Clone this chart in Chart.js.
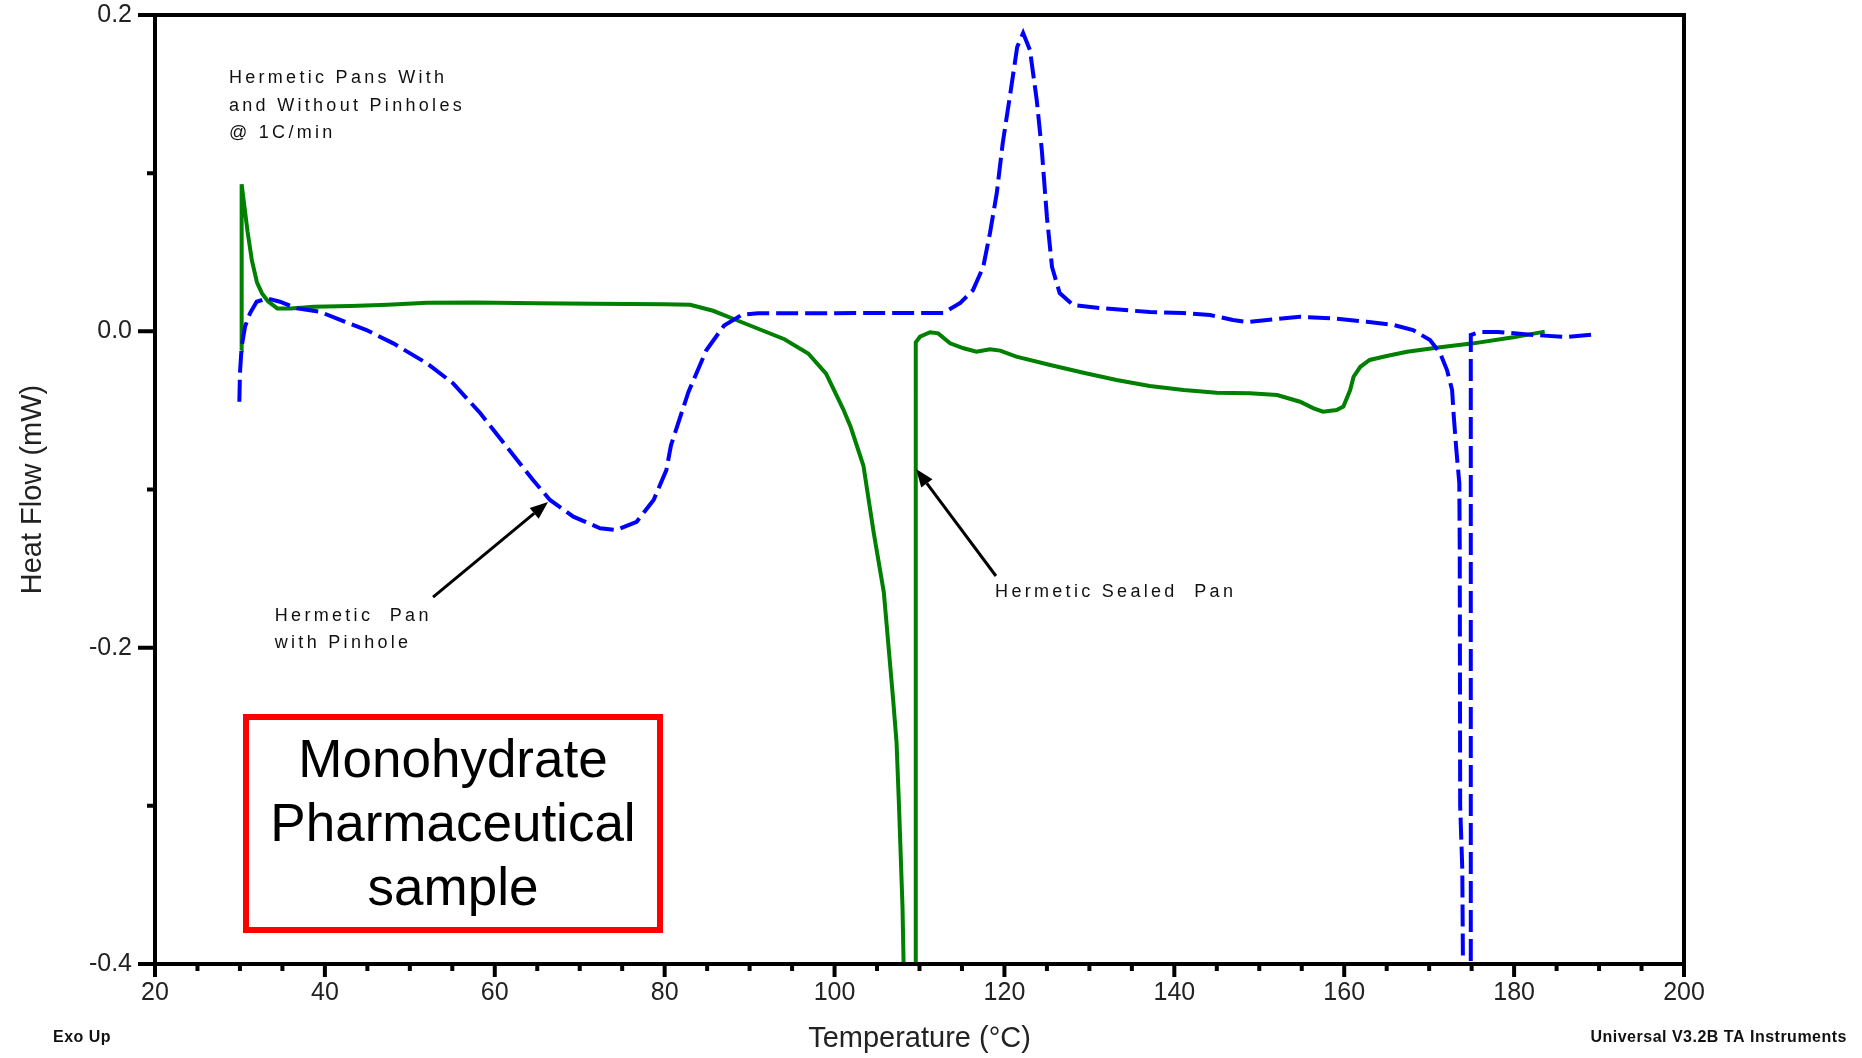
<!DOCTYPE html>
<html><head><meta charset="utf-8">
<script src="https://cdn.jsdelivr.net/npm/chart.js@4.4.1/dist/chart.umd.min.js"></script>
<style>html,body{margin:0;padding:0;background:#fff;} #wrap{width:1862px;height:1058px;position:relative;}</style>
</head><body><div id="wrap"><canvas id="c"></canvas></div>
<script>
// Tick labels
const xTickLabels = [20, 40, 60, 80, 100, 120, 140, 160, 180, 200];
const yTickLabels = [-0.4, -0.2, 0.0, 0.2];

// Hermetic Sealed Pan (green, solid)
const sealedT  = [30.15, 30.2, 30.5, 30.9, 31.4, 32.0, 32.6, 33.3, 34.4, 36.0, 38.7, 43.0, 47.4, 52.0, 57.7, 65.0, 71.7, 80.0, 83.0, 85.7, 88.5, 91.3, 94.1, 96.9, 99.0, 101.0, 101.9, 103.4, 104.6, 105.8, 106.9, 107.3, 107.6, 108.0, 108.2, 108.6, 109.2, 109.55, 109.56, 110.06, 111.24, 112.2, 113.6, 115.2, 116.7, 118.3, 119.5, 121.4, 125.4, 129.3, 133.2, 137.1, 141.1, 145.0, 148.9, 152.1, 154.8, 156.4, 157.5, 159.1, 159.9, 160.7, 161.1, 161.9, 163.0, 165.0, 167.4, 171.3, 175.2, 179.9, 183.6];
const sealedHF = [-0.012, 0.093, 0.080, 0.063, 0.045, 0.031, 0.024, 0.019, 0.0145, 0.0145, 0.0155, 0.016, 0.0168, 0.018, 0.0183, 0.0178, 0.0175, 0.0172, 0.0168, 0.013, 0.007, 0.001, -0.005, -0.014, -0.0268, -0.049, -0.0605, -0.085, -0.127, -0.165, -0.233, -0.260, -0.302, -0.364, -0.42, -0.48, -0.48, -0.42, -0.007, -0.0034, -0.0006, -0.0013, -0.0076, -0.0107, -0.0129, -0.0114, -0.0122, -0.016, -0.0213, -0.0262, -0.0308, -0.0346, -0.0371, -0.0388, -0.0392, -0.0403, -0.0445, -0.0487, -0.0508, -0.0497, -0.0476, -0.0371, -0.0287, -0.0224, -0.0181, -0.0156, -0.0129, -0.0101, -0.0076, -0.0038, -0.0002];

// Hermetic Pan with Pinhole (blue, dashed)
const pinholeT  = [29.93, 30.0, 30.2, 30.6, 31.18, 31.97, 33.15, 34.7, 36.7, 39.4, 41.8, 44.9, 48.05, 52.0, 55.1, 58.3, 61.4, 64.5, 66.5, 69.25, 72.4, 74.35, 76.7, 78.7, 80.2, 80.75, 82.8, 84.9, 87.0, 89.1, 91.0, 100.0, 112.8, 114.8, 116.3, 117.5, 118.3, 119.1, 119.8, 120.7, 121.5, 122.2, 123.0, 123.8, 124.4, 125.0, 125.6, 126.5, 128.1, 131.25, 137.1, 141.0, 144.2, 146.9, 148.6, 151.5, 154.8, 158.7, 162.65, 165.8, 168.1, 170.1, 171.3, 172.1, 172.7, 172.9, 173.2, 173.55, 173.6, 173.65, 173.9, 174.0, 174.3, 174.7, 174.9, 174.9, 176.0, 178.1, 182.3, 186.2, 189.8];
const pinholeHF = [-0.0445, -0.0265, -0.0097, 0.003, 0.0114, 0.0187, 0.0209, 0.0187, 0.0146, 0.0124, 0.0072, 0.0008, -0.0076, -0.0202, -0.0329, -0.0518, -0.0729, -0.094, -0.1066, -0.1172, -0.1245, -0.1256, -0.1204, -0.1066, -0.0877, -0.0719, -0.0383, -0.012, 0.0037, 0.0105, 0.0115, 0.0115, 0.0116, 0.0179, 0.0261, 0.0407, 0.0622, 0.0875, 0.1191, 0.1507, 0.1798, 0.1886, 0.1779, 0.1463, 0.1146, 0.0723, 0.0407, 0.0242, 0.0166, 0.0147, 0.0122, 0.0116, 0.0103, 0.0072, 0.0059, 0.0075, 0.0092, 0.0082, 0.0061, 0.004, 0.0008, -0.0055, -0.0139, -0.0245, -0.0371, -0.054, -0.075, -0.096, -0.138, -0.30, -0.34, -0.42, -0.48, -0.48, -0.42, -0.0023, -0.0004, -0.0004, -0.0023, -0.0036, -0.0017];

const toXY = (xs, ys) => xs.map((x, i) => ({x: x, y: ys[i]}));

const FONT = '"Liberation Sans", Arial, sans-serif';

const decor = {
  id: 'decor',
  afterDraw(chart) {
    const ctx = chart.ctx;
    const a = chart.chartArea;
    const xs = chart.scales.x, ys = chart.scales.y;
    ctx.save();
    // frame
    ctx.strokeStyle = '#000';
    ctx.lineWidth = 4;
    ctx.strokeRect(a.left, a.top, a.right - a.left, a.bottom - a.top);
    // ticks
    ctx.lineWidth = 4;
    ctx.beginPath();
    xs.ticks.forEach(t => {
      const px = xs.getPixelForValue(t.value);
      const major = xTickLabels.includes(t.value);
      ctx.moveTo(px, a.bottom);
      ctx.lineTo(px, a.bottom + (major ? 13 : 7));
    });
    ys.ticks.forEach(t => {
      const py = ys.getPixelForValue(t.value);
      const major = yTickLabels.some(v => Math.abs(v - t.value) < 1e-9);
      ctx.moveTo(a.left, py);
      ctx.lineTo(a.left - (major ? 17 : 8), py);
    });
    ctx.stroke();

    // annotation texts
    ctx.fillStyle = '#111';
    ctx.font = '18px ' + FONT;
    ctx.textAlign = 'left';
    ctx.textBaseline = 'alphabetic';
    try { ctx.letterSpacing = '3.3px'; } catch (e) {}
    const note = (lines, T, v) => {
      const x0 = xs.getPixelForValue(T), y0 = ys.getPixelForValue(v);
      lines.forEach((s, i) => ctx.fillText(s, x0, y0 + i * 27.5));
    };
    note(['Hermetic Pans With', 'and Without Pinholes', '@ 1C/min'], 28.7, 0.157);
    note(['Hermetic  Pan', 'with Pinhole'], 34.1, -0.183);
    note(['Hermetic Sealed  Pan'], 118.9, -0.1678);

    // arrows
    const arrow = (T1, v1, T2, v2) => {
      const x1 = xs.getPixelForValue(T1), y1 = ys.getPixelForValue(v1);
      const x2 = xs.getPixelForValue(T2), y2 = ys.getPixelForValue(v2);
      const ang = Math.atan2(y2 - y1, x2 - x1);
      const L = 18, W = 7;
      const bx = x2 - L * Math.cos(ang), by = y2 - L * Math.sin(ang);
      ctx.strokeStyle = '#000';
      ctx.lineWidth = 3;
      ctx.beginPath();
      ctx.moveTo(x1, y1);
      ctx.lineTo(bx, by);
      ctx.stroke();
      ctx.fillStyle = '#000';
      ctx.beginPath();
      ctx.moveTo(x2, y2);
      ctx.lineTo(bx + W * Math.sin(ang), by - W * Math.cos(ang));
      ctx.lineTo(bx - W * Math.sin(ang), by + W * Math.cos(ang));
      ctx.closePath();
      ctx.fill();
    };
    arrow(52.73, -0.168, 66.27, -0.1079);
    arrow(119.0, -0.1547, 109.6, -0.087);

    // red box
    try { ctx.letterSpacing = '0px'; } catch (e) {}
    ctx.strokeStyle = '#ff0000';
    ctx.lineWidth = 6;
    ctx.strokeRect(246, 717, 414, 213);
    ctx.fillStyle = '#000';
    ctx.font = '53px ' + FONT;
    ctx.textAlign = 'center';
    ['Monohydrate', 'Pharmaceutical', 'sample'].forEach((s, i) => ctx.fillText(s, 453, 777 + i * 64));

    // footer
    ctx.font = 'bold 16px ' + FONT;
    ctx.fillStyle = '#111';
    try { ctx.letterSpacing = '0.5px'; } catch (e) {}
    ctx.textAlign = 'left';
    ctx.fillText('Exo Up', 53, 1042);
    ctx.textAlign = 'right';
    ctx.fillText('Universal V3.2B TA Instruments', 1847, 1042);
    ctx.restore();
  }
};

new Chart(document.getElementById('c'), {
  type: 'line',
  data: {
    datasets: [
      {label: 'Hermetic Pan with Pinhole', data: toXY(pinholeT, pinholeHF), borderColor: '#0000ff', borderWidth: 4, borderDash: [22, 7], pointRadius: 0, fill: false, tension: 0},
      {label: 'Hermetic Sealed Pan', data: toXY(sealedT, sealedHF), borderColor: '#008000', borderWidth: 4, pointRadius: 0, fill: false, tension: 0}
    ]
  },
  options: {
    responsive: true,
    maintainAspectRatio: false,
    animation: false,
    devicePixelRatio: 1,
    layout: {padding: {left: 0, right: 178, top: 15, bottom: 0}},
    plugins: {legend: {display: false}, tooltip: {enabled: false}},
    scales: {
      x: {
        type: 'linear', min: 20, max: 200,
        grid: {display: false, drawTicks: false},
        border: {display: false},
        ticks: {stepSize: 5, autoSkip: false, maxRotation: 0, padding: 14.5, color: '#222', font: {family: FONT, size: 25},
          callback: v => xTickLabels.includes(v) ? String(v) : ''},
        title: {display: true, text: 'Temperature (°C)', color: '#222', font: {family: FONT, size: 29}, padding: {top: 0, bottom: 2}},
        afterFit: s => { s.height = 94; s.paddingLeft = 0; s.paddingRight = 0; }
      },
      y: {
        type: 'linear', min: -0.4, max: 0.2,
        grid: {display: false, drawTicks: false},
        border: {display: false},
        ticks: {stepSize: 0.1, autoSkip: false, padding: 23, color: '#222', font: {family: FONT, size: 25},
          callback: v => yTickLabels.some(t => Math.abs(t - v) < 1e-9) ? Number(v).toFixed(1) : ''},
        title: {display: true, text: 'Heat Flow (mW)', color: '#222', font: {family: FONT, size: 29}, padding: {top: 15.6, bottom: 0}},
        afterFit: s => { s.width = 155; s.paddingTop = 0; s.paddingBottom = 0; }
      }
    }
  },
  plugins: [decor]
});
</script>
</body></html>
